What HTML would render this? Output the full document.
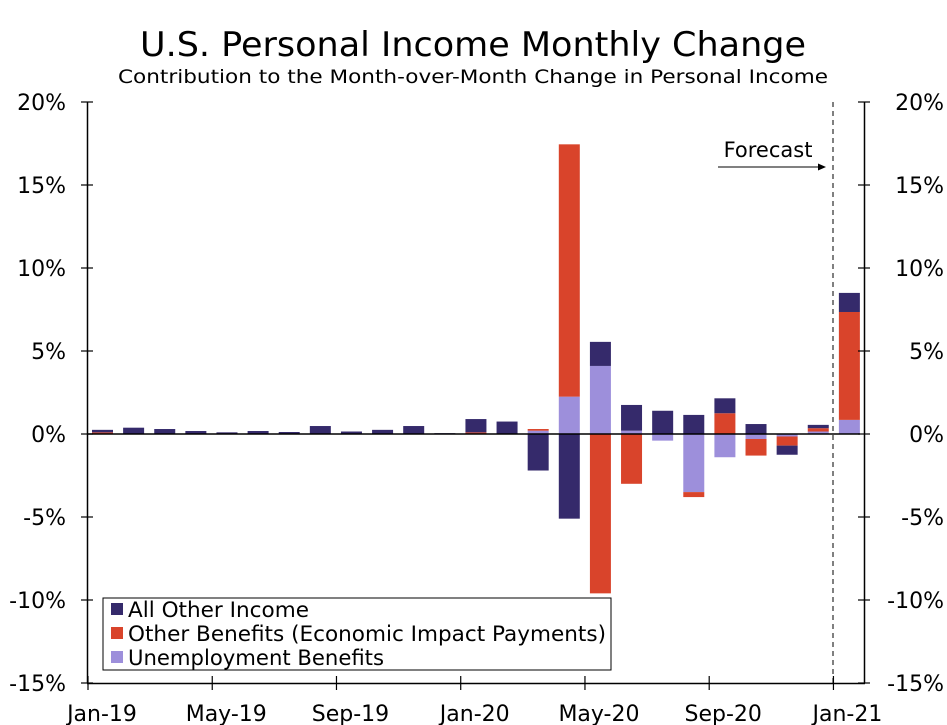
<!DOCTYPE html>
<html><head><meta charset="utf-8"><style>
body{margin:0;background:#fff}
svg{display:block;font-family:"DejaVu Sans","Liberation Sans",sans-serif}
</style></head><body>
<svg id="c" width="947" height="725" viewBox="0 0 947 725">
<text x="473" y="56" font-size="34" text-anchor="middle" textLength="666" lengthAdjust="spacingAndGlyphs">U.S. Personal Income Monthly Change</text>
<text x="473" y="83" font-size="19" text-anchor="middle" textLength="710" lengthAdjust="spacingAndGlyphs">Contribution to the Month-over-Month Change in Personal Income</text>
<g id="bars"></g>
<g id="axes"></g>
<line x1="833" y1="102" x2="833" y2="683" stroke="#000" stroke-width="1" stroke-dasharray="5,4"/>
<text x="768" y="157" font-size="21" text-anchor="middle">Forecast</text>
<line x1="718" y1="167" x2="820" y2="167" stroke="#000" stroke-width="1"/>
<path d="M826 167 L818 163.5 L818 170.5 Z" fill="#000"/>
<g>
<rect x="103" y="598" width="508" height="72" fill="#fff" stroke="#000" stroke-width="1"/>
<rect x="111" y="603" width="12" height="12" fill="#352a6b"/>
<text x="128" y="617" font-size="21" textLength="181" lengthAdjust="spacingAndGlyphs">All Other Income</text>
<rect x="111" y="627" width="12" height="12" fill="#d9442b"/>
<text x="128" y="641" font-size="21" textLength="478" lengthAdjust="spacingAndGlyphs">Other Benefits (Economic Impact Payments)</text>
<rect x="111" y="651" width="12" height="12" fill="#9d8fdb"/>
<text x="128" y="665" font-size="21" textLength="256" lengthAdjust="spacingAndGlyphs">Unemployment Benefits</text>
</g>
</svg>
<script>
const months=["Jan-19","Feb-19","Mar-19","Apr-19","May-19","Jun-19","Jul-19","Aug-19","Sep-19","Oct-19","Nov-19","Dec-19","Jan-20","Feb-20","Mar-20","Apr-20","May-20","Jun-20","Jul-20","Aug-20","Sep-20","Oct-20","Nov-20","Dec-20","Jan-21"];
const unemployment=[0,0,0,0,0,0,0,0,0,0,0,0,0,0,0.2,2.25,4.1,0.2,-0.4,-3.5,-1.4,-0.3,-0.15,0.15,0.85];
const otherBenefits=[0.1,0,0,0,0,0,0,0,0,0,0,0,0.1,0,0.1,15.2,-9.6,-3.0,0,-0.3,1.25,-1.0,-0.55,0.2,6.5];
const otherIncome=[0.15,0.38,0.3,0.18,0.1,0.18,0.12,0.48,0.15,0.25,0.48,0.05,0.8,0.75,-2.2,-5.1,1.45,1.55,1.4,1.15,0.9,0.6,-0.55,0.2,1.15];
const yTicks=[20,15,10,5,0,-5,-10,-15];
const xTickLabels=["Jan-19","May-19","Sep-19","Jan-20","May-20","Sep-20","Jan-21"];
const xTickIdx=[0,4,8,12,16,20,24];

const NS="http://www.w3.org/2000/svg";
const y=v=>434-v*16.6;
const xc=i=>102.5+i*31.12;
const xt=i=>88+i*31.06;
function mk(tag,attrs,parent){const e=document.createElementNS(NS,tag);for(const k in attrs)e.setAttribute(k,attrs[k]);parent.appendChild(e);return e;}
const bars=document.getElementById('bars'),axes=document.getElementById('axes');
const series=[[unemployment,"#9d8fdb","unemployment"],[otherBenefits,"#d9442b","other-benefits"],[otherIncome,"#352a6b","other-income"]];
months.forEach((m,i)=>{
  let pos=0,neg=0;
  series.forEach(([arr,col,nm])=>{
    const v=arr[i];if(!v)return;
    let a,b;
    if(v>0){a=pos;b=pos+v;pos=b;}else{a=neg;b=neg+v;neg=b;}
    const top=y(Math.max(a,b)),bot=y(Math.min(a,b));
    const r=mk('rect',{x:xc(i)-10.5,y:top,width:21,height:Math.max(bot-top,0.8),fill:col},bars);
    
    
  });
});
const zl=mk('line',{x1:88,y1:434,x2:860,y2:434,stroke:"#000","stroke-width":1.5},axes);

const la=mk('line',{x1:87.5,y1:102,x2:87.5,y2:683,stroke:"#000","stroke-width":1.5},axes);

const ra=mk('line',{x1:864.5,y1:102,x2:864.5,y2:683,stroke:"#000","stroke-width":1.5},axes);

const xa=mk('line',{x1:87,y1:683.5,x2:865,y2:683.5,stroke:"#000","stroke-width":1.5},axes);

yTicks.forEach(t=>{
  const yy=y(t);
  mk('line',{x1:81,y1:yy,x2:93,y2:yy,stroke:"#000","stroke-width":1.2},axes);
  mk('line',{x1:858,y1:yy,x2:870,y2:yy,stroke:"#000","stroke-width":1.2},axes);
  const l=mk('text',{x:66,y:yy+8,"font-size":22,"text-anchor":"end"},axes);l.textContent=t+'%';
  
  const r=mk('text',{x:944,y:yy+8,"font-size":22,"text-anchor":"end"},axes);r.textContent=t+'%';
  
});
xTickIdx.forEach((idx,k)=>{
  const xx=xt(idx);
  mk('line',{x1:xx,y1:676,x2:xx,y2:690,stroke:"#000","stroke-width":1.2},axes);
  const l=mk('text',{x:xx+14,y:721,"font-size":22,"text-anchor":"middle"},axes);l.textContent=xTickLabels[k];
  
});
</script>
</body></html>
